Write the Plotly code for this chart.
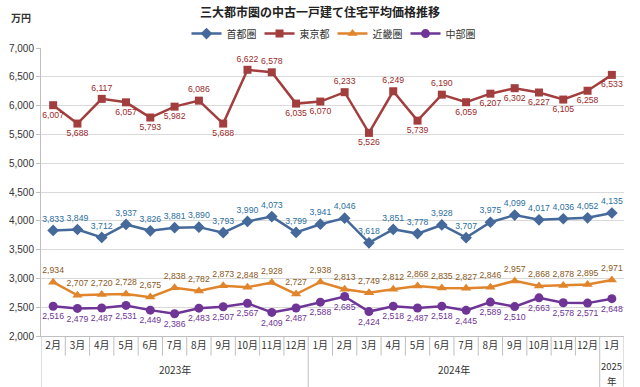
import plotly.graph_objects as go

year_labels = ["2023年", "2024年", "2025年"]
year_counts = [11, 12, 1]
months = ["2月", "3月", "4月", "5月", "6月", "7月", "8月", "9月", "10月", "11月", "12月",
          "1月", "2月", "3月", "4月", "5月", "6月", "7月", "8月", "9月", "10月", "11月", "12月",
          "1月"]

shutoken = [3833, 3849, 3712, 3937, 3826, 3881, 3890, 3793, 3990, 4073, 3799,
            3941, 4046, 3618, 3851, 3778, 3928, 3707, 3975, 4099, 4017, 4036, 4052,
            4135]
tokyo = [6007, 5688, 6117, 6057, 5793, 5982, 6086, 5688, 6622, 6578, 6035,
         6070, 6233, 5526, 6249, 5739, 6190, 6059, 6207, 6302, 6227, 6105, 6258,
         6533]
kinki = [2934, 2707, 2720, 2728, 2675, 2838, 2782, 2873, 2848, 2928, 2727,
         2938, 2813, 2749, 2812, 2868, 2835, 2827, 2846, 2957, 2868, 2878, 2895,
         2971]
chubu = [2516, 2479, 2487, 2531, 2449, 2386, 2483, 2507, 2567, 2409, 2487,
         2588, 2685, 2424, 2518, 2487, 2518, 2445, 2589, 2510, 2663, 2578, 2571,
         2648]

tokyo_above = [False, False, True, False, False, False, True, False, True, True, False,
               False, True, False, True, False, True, False, False, False, False, False, False,
               False]

xi = list(range(len(months)))
font_num = "Liberation Sans, sans-serif"
font_jp = "Noto Sans CJK JP, sans-serif"

fig = go.Figure()

def add(name, vals, color, tcolor, symbol, size, pos):
    fig.add_trace(go.Scatter(
        x=xi, y=vals, name=name, mode="lines+markers+text",
        line=dict(color=color, width=2.5),
        marker=dict(symbol=symbol, size=size, color=color),
        text=[f"{v:,}" for v in vals],
        textposition=pos,
        textfont=dict(color=tcolor, size=8.7, family=font_num),
        cliponaxis=False,
    ))

add("首都圏", shutoken, "#44699A", "#2B6F9E", "diamond", 9, "top center")
add("東京都", tokyo, "#A23E3E", "#9A2A2A", "square", 8,
    ["top center" if a else "bottom center" for a in tokyo_above])
add("近畿圏", kinki, "#E0852B", "#8A5A1E", "triangle-up", 9, "top center")
add("中部圏", chubu, "#6E3596", "#6E3596", "circle", 9, "bottom center")

fig.update_layout(
    width=640, height=387,
    margin=dict(l=41, r=16, t=48, b=51, autoexpand=False),
    paper_bgcolor="white", plot_bgcolor="white",
    font=dict(family=font_jp, size=10, color="#333333"),
    title=dict(text="<b>三大都市圏の中古一戸建て住宅平均価格推移</b>",
               x=0.5, xanchor="center", y=0.968, yanchor="middle",
               font=dict(size=12, color="#222222", family=font_jp)),
    legend=dict(orientation="h", x=0.5, xanchor="center", y=1.05, yanchor="middle",
                font=dict(size=10, family=font_jp, color="#333333"),
                itemwidth=30, entrywidth=28, entrywidthmode="pixels",
                tracegroupgap=0, bgcolor="rgba(0,0,0,0)"),
    showlegend=True,
)

fig.update_xaxes(
    range=[-0.5, len(months) - 0.5],
    tickmode="array", tickvals=xi, ticktext=months, tickangle=0,
    showline=True, linecolor="#BFBFBF", linewidth=1,
    ticks="", showgrid=False, zeroline=False,
    tickfont=dict(size=10, family=font_jp, color="#333333"),
)
fig.update_yaxes(
    range=[2000, 7000], dtick=500, tickformat=",",
    showgrid=True, gridcolor="#D9D9D9", gridwidth=1,
    showline=True, linecolor="#BFBFBF", linewidth=1,
    ticks="outside", ticklen=4, tickcolor="#BFBFBF",
    tickfont=dict(size=10, family=font_num, color="#333333"),
    zeroline=False,
)

# category dividers and year labels
boundaries = [-0.5]
for c in year_counts:
    boundaries.append(boundaries[-1] + c)
for k in range(len(months) + 1):
    pos = k - 0.5
    long = pos in boundaries
    fig.add_shape(type="line", xref="x", yref="paper", x0=pos, x1=pos,
                  y0=0, y1=-0.178 if long else -0.068,
                  line=dict(color="#BFBFBF", width=1))
for lab, c, a, b in zip(year_labels, year_counts, boundaries[:-1], boundaries[1:]):
    xc = (a + b) / 2
    if c == 1:
        # narrow group: wrap the year label onto two lines
        fig.add_annotation(text=lab[:-1], xref="x", yref="paper", x=xc, y=-0.103,
                           yanchor="middle", xanchor="center", showarrow=False,
                           font=dict(size=9.5, family=font_jp, color="#333333"))
        fig.add_annotation(text=lab[-1], xref="x", yref="paper", x=xc, y=-0.155,
                           yanchor="middle", xanchor="center", showarrow=False,
                           font=dict(size=9.5, family=font_jp, color="#333333"))
    else:
        fig.add_annotation(text=lab, xref="x", yref="paper", x=xc, y=-0.115,
                           yanchor="middle", xanchor="center", showarrow=False,
                           font=dict(size=10, family=font_jp, color="#333333"))

fig.add_annotation(text="<b>万円</b>", xref="paper", yref="paper", x=-0.035, y=1.105,
                   xanchor="center", yanchor="middle", showarrow=False,
                   font=dict(size=10, family=font_jp, color="#333333"))

fig.write_html("out.html", config={"displayModeBar": False},
               post_script="document.body.style.margin='0';document.body.style.overflow='hidden';")
